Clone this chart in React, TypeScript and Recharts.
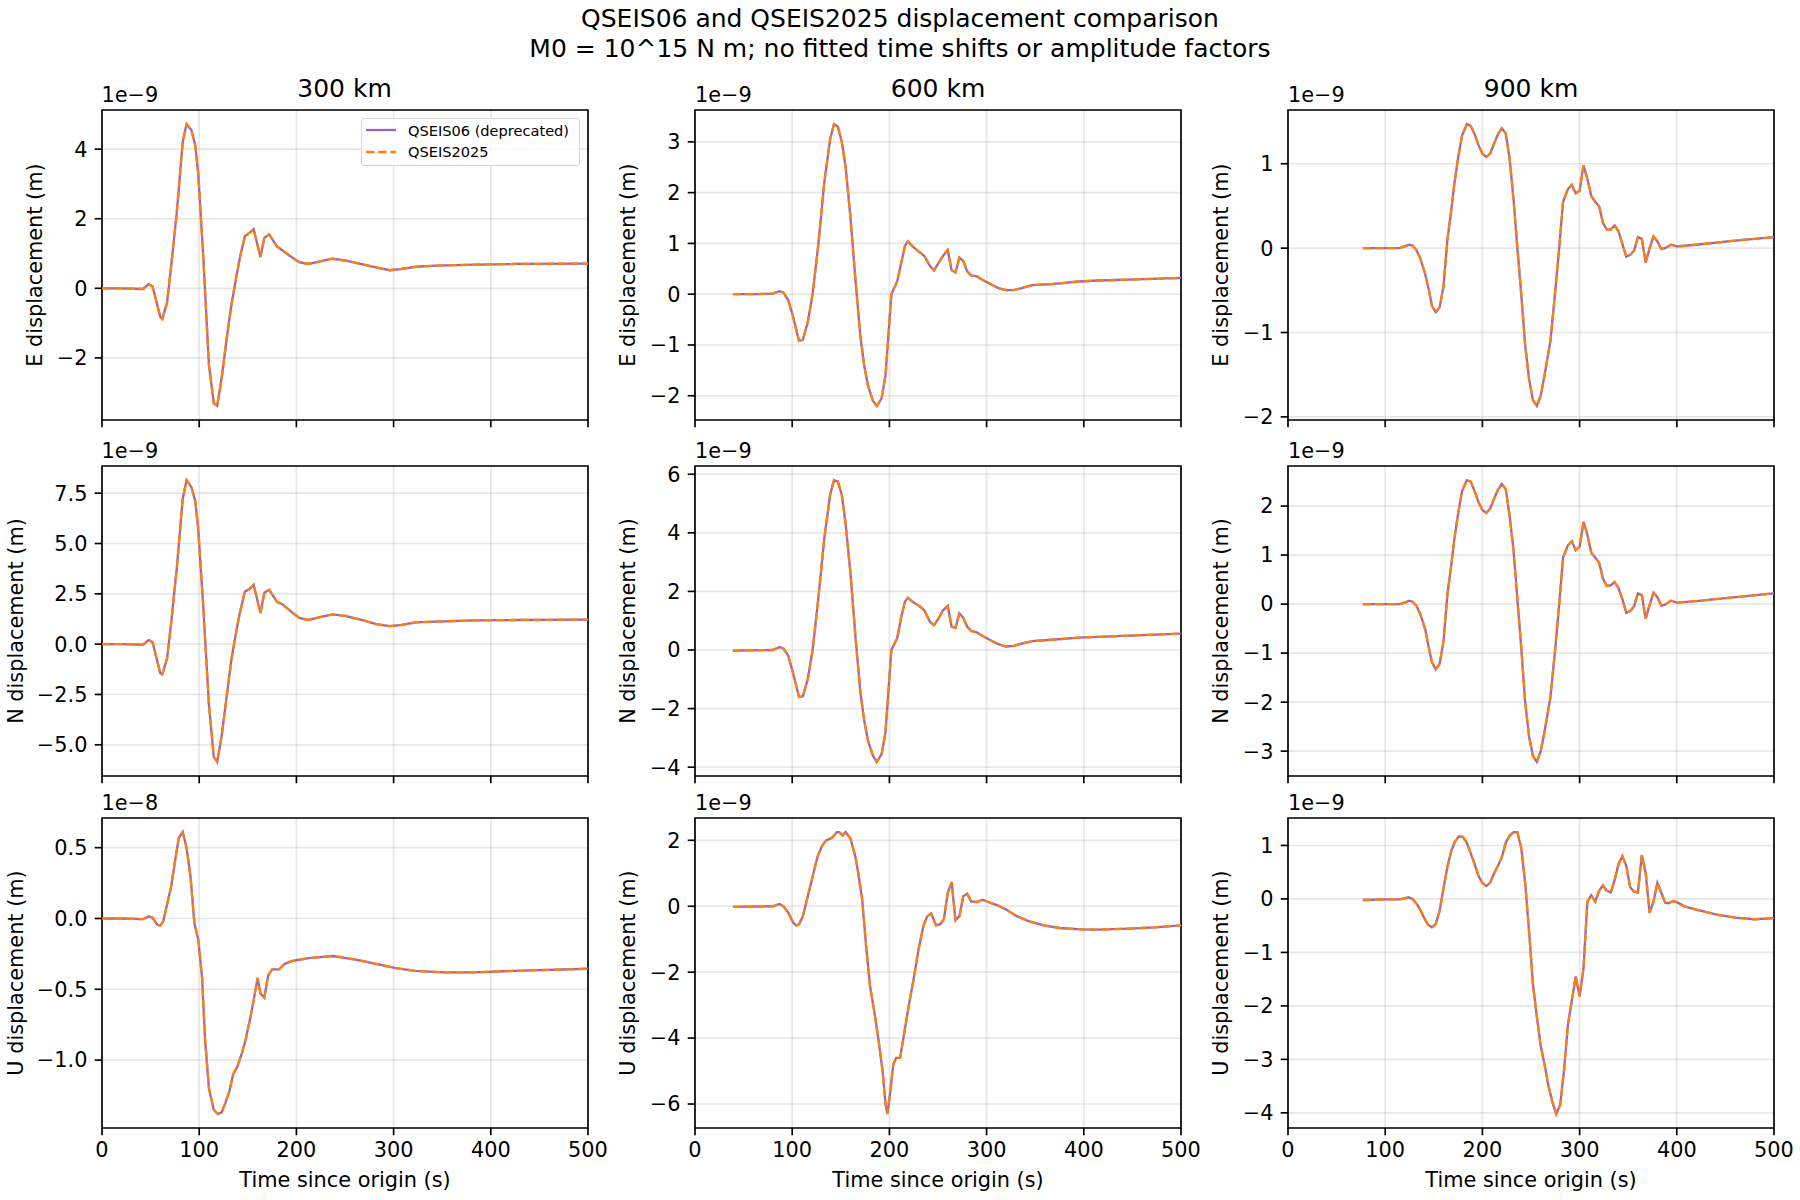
import React from "react";
import { LineChart, Line, XAxis, YAxis, CartesianGrid, ReferenceArea } from "recharts";

type Trace = [number, number][];

const DISTANCES = ["300 km", "600 km", "900 km"];
const COMPONENTS = ["E", "N", "U"];
const TIME_TICKS = [0, 100, 200, 300, 400, 500];
const TITLE = [
  "QSEIS06 and QSEIS2025 displacement comparison",
  "M0 = 10^15 N m; no fitted time shifts or amplitude factors",
];
const SERIES = ["QSEIS06 (deprecated)", "QSEIS2025"];

// traces: [time (s), displacement in units of the panel exponent]
const E_300: Trace = [
  [0, 0], [20, 0], [42, -0.02], [48, 0.12], [52, 0.05], [60, -0.82], [62, -0.88], [67, -0.4],
  [71, 0.6], [77, 2.2], [83, 4.2], [87, 4.72], [92, 4.55], [96, 4.1], [99, 3.3], [104, 1.0],
  [110, -2.2], [115, -3.3], [118.5, -3.38], [123, -2.6], [128, -1.5], [133, -0.5], [138, 0.3],
  [142, 0.9], [147, 1.5], [152, 1.6], [156, 1.7], [163, 0.9], [167, 1.45], [172, 1.55],
  [180, 1.2], [185, 1.1], [195, 0.9], [203, 0.75], [212, 0.7], [221, 0.75], [237, 0.85],
  [250, 0.8], [266, 0.7], [282, 0.6], [296, 0.52], [307, 0.55], [323, 0.62], [343, 0.65],
  [384, 0.68], [425, 0.7], [500, 0.71],
];
const N_300: Trace = [
  [0, 0], [20, 0], [42, -0.03], [48, 0.2], [52, 0.1], [60, -1.45], [62, -1.5], [67, -0.7],
  [71, 1.0], [77, 3.8], [83, 7.2], [87, 8.15], [92, 7.8], [96, 7.1], [99, 5.7], [104, 2.0],
  [110, -3.0], [115, -5.6], [118.5, -5.85], [123, -4.6], [128, -2.7], [133, -0.8], [138, 0.6],
  [142, 1.6], [147, 2.6], [152, 2.75], [156, 2.95], [163, 1.55], [167, 2.55], [172, 2.7],
  [180, 2.1], [185, 2.0], [195, 1.6], [203, 1.3], [212, 1.2], [221, 1.3], [237, 1.48],
  [250, 1.4], [266, 1.22], [282, 1.0], [296, 0.9], [307, 0.95], [323, 1.08], [343, 1.12],
  [384, 1.18], [425, 1.2], [500, 1.22],
];
const U_300: Trace = [
  [0, 0], [20, 0], [42, -0.005], [48, 0.015], [52, 0.005], [57, -0.045], [60, -0.05],
  [63, -0.02], [66, 0.07], [71, 0.22], [75, 0.4], [79, 0.57], [83, 0.61], [87, 0.5], [91, 0.3],
  [95, -0.03], [99, -0.15], [103, -0.42], [106, -0.85], [110, -1.2], [115, -1.35], [119, -1.38],
  [123, -1.37], [127, -1.3], [131, -1.22], [135, -1.1], [139, -1.05], [144, -0.95],
  [148, -0.85], [152, -0.72], [156, -0.58], [160, -0.42], [163, -0.53], [167, -0.56],
  [171, -0.4], [175, -0.36], [182, -0.36], [188, -0.32], [196, -0.3], [213, -0.28],
  [237, -0.265], [261, -0.29], [282, -0.32], [302, -0.35], [322, -0.37], [351, -0.38],
  [383, -0.38], [424, -0.37], [500, -0.355],
];
const E_600: Trace = [
  [39, 0], [60, 0], [80, 0.01], [87, 0.06], [91, 0.03], [96, -0.12], [101, -0.45], [107, -0.92],
  [111, -0.9], [116, -0.55], [121, 0.0], [127, 1.0], [133, 2.2], [139, 3.05], [143, 3.35],
  [147, 3.3], [151, 3.0], [155, 2.5], [160, 1.5], [165, 0.3], [170, -0.8], [174, -1.4],
  [178, -1.8], [183, -2.1], [187, -2.2], [192, -2.05], [196, -1.6], [199, -0.8], [202, 0.0],
  [208, 0.25], [212, 0.6], [216, 0.95], [219, 1.04], [225, 0.92], [231, 0.83], [236, 0.75],
  [242, 0.55], [246, 0.47], [251, 0.63], [255, 0.75], [260, 0.87], [264, 0.47], [268, 0.43],
  [272, 0.72], [276, 0.65], [280, 0.45], [284, 0.37], [290, 0.35], [296, 0.28], [304, 0.2],
  [312, 0.12], [320, 0.08], [328, 0.08], [336, 0.12], [347, 0.18], [367, 0.2], [395, 0.25],
  [415, 0.27], [454, 0.29], [500, 0.32],
];
const N_600: Trace = [
  [39, -0.02], [80, 0.0], [87, 0.1], [91, 0.05], [96, -0.2], [101, -0.8], [107, -1.6],
  [111, -1.58], [116, -1.0], [121, 0.0], [127, 1.8], [133, 3.8], [139, 5.3], [143, 5.8],
  [147, 5.75], [151, 5.3], [155, 4.3], [160, 2.6], [165, 0.5], [170, -1.4], [174, -2.4],
  [178, -3.1], [183, -3.6], [187, -3.82], [192, -3.55], [196, -2.8], [199, -1.4], [202, 0.0],
  [208, 0.4], [212, 1.1], [216, 1.65], [219, 1.78], [225, 1.62], [231, 1.5], [236, 1.35],
  [242, 0.95], [246, 0.85], [251, 1.1], [255, 1.35], [260, 1.5], [264, 0.8], [268, 0.75],
  [272, 1.25], [276, 1.1], [280, 0.8], [284, 0.65], [290, 0.6], [296, 0.48], [304, 0.33],
  [312, 0.2], [320, 0.12], [328, 0.14], [336, 0.22], [347, 0.3], [367, 0.35], [395, 0.42],
  [415, 0.45], [454, 0.5], [500, 0.56],
];
const U_600: Trace = [
  [39, -0.02], [80, 0.0], [87, 0.07], [91, 0.0], [96, -0.2], [101, -0.5], [104, -0.58],
  [107, -0.55], [111, -0.3], [116, 0.3], [121, 0.9], [126, 1.5], [131, 1.85], [135, 2.0],
  [141, 2.08], [146, 2.25], [148, 2.25], [152, 2.15], [155, 2.25], [160, 2.05], [165, 1.5],
  [168, 1.0], [172, 0.2], [176, -1.2], [180, -2.4], [185, -3.3], [189, -4.1], [193, -5.0],
  [196, -6.0], [198, -6.3], [201, -5.6], [204, -4.8], [207, -4.6], [211, -4.6], [215, -3.9],
  [220, -3.0], [225, -2.2], [230, -1.3], [235, -0.6], [239, -0.3], [243, -0.22], [248, -0.58],
  [252, -0.55], [256, -0.4], [260, 0.4], [264, 0.73], [268, -0.42], [272, -0.3], [276, 0.3],
  [280, 0.38], [284, 0.15], [290, 0.13], [296, 0.2], [304, 0.1], [312, 0.02], [320, -0.1],
  [331, -0.3], [343, -0.45], [359, -0.58], [375, -0.66], [398, -0.7], [414, -0.71],
  [446, -0.68], [473, -0.64], [500, -0.58],
];
const E_900: Trace = [
  [77, 0], [99, 0], [115, 0], [120, 0.02], [125, 0.04], [128, 0.03], [132, -0.02], [136, -0.12],
  [141, -0.3], [145, -0.5], [148, -0.68], [152, -0.76], [156, -0.7], [160, -0.45], [164, 0.1],
  [168, 0.45], [171, 0.75], [175, 1.07], [179, 1.33], [184, 1.47], [188, 1.45], [192, 1.35],
  [196, 1.22], [200, 1.12], [204, 1.08], [208, 1.12], [212, 1.24], [216, 1.35], [220, 1.42],
  [224, 1.36], [228, 1.06], [232, 0.58], [236, 0.0], [240, -0.55], [244, -1.15], [248, -1.55],
  [252, -1.8], [256, -1.87], [260, -1.75], [264, -1.5], [270, -1.1], [275, -0.5], [279, 0.0],
  [283, 0.55], [288, 0.7], [292, 0.75], [296, 0.65], [300, 0.68], [304, 0.98], [308, 0.82],
  [312, 0.62], [316, 0.55], [320, 0.5], [324, 0.3], [328, 0.22], [332, 0.22], [336, 0.27],
  [340, 0.2], [344, 0.05], [348, -0.1], [352, -0.08], [356, -0.03], [360, 0.13], [364, 0.11],
  [368, -0.17], [372, 0.0], [376, 0.14], [380, 0.08], [384, -0.01], [388, 0.0], [394, 0.04],
  [400, 0.02], [420, 0.04], [460, 0.09], [500, 0.13],
];
const N_900: Trace = [
  [77, 0], [99, 0], [115, 0], [120, 0.03], [125, 0.07], [128, 0.05], [132, -0.03], [136, -0.2],
  [141, -0.5], [145, -0.9], [148, -1.18], [152, -1.33], [156, -1.22], [160, -0.75], [164, 0.2],
  [168, 0.8], [171, 1.3], [175, 1.85], [179, 2.3], [184, 2.53], [188, 2.5], [192, 2.3],
  [196, 2.08], [200, 1.92], [204, 1.86], [208, 1.95], [212, 2.15], [216, 2.33], [220, 2.45],
  [224, 2.35], [228, 1.8], [232, 1.1], [236, 0.1], [240, -0.9], [244, -2.0], [248, -2.7],
  [252, -3.1], [256, -3.22], [260, -3.0], [264, -2.6], [270, -1.9], [275, -0.9], [279, 0.0],
  [283, 0.95], [288, 1.2], [292, 1.28], [296, 1.1], [300, 1.17], [304, 1.68], [308, 1.42],
  [312, 1.05], [316, 0.95], [320, 0.85], [324, 0.52], [328, 0.37], [332, 0.38], [336, 0.45],
  [340, 0.33], [344, 0.1], [348, -0.18], [352, -0.14], [356, -0.05], [360, 0.22], [364, 0.18],
  [368, -0.3], [372, -0.02], [376, 0.23], [380, 0.14], [384, -0.03], [388, -0.01], [394, 0.07],
  [400, 0.03], [420, 0.06], [460, 0.14], [500, 0.22],
];
const U_900: Trace = [
  [77, -0.02], [99, -0.01], [115, -0.01], [120, 0.01], [124, 0.03], [128, 0.0], [132, -0.08],
  [136, -0.2], [140, -0.35], [144, -0.48], [148, -0.53], [152, -0.47], [156, -0.22], [160, 0.2],
  [164, 0.6], [168, 0.9], [172, 1.08], [176, 1.17], [180, 1.16], [184, 1.05], [188, 0.85],
  [192, 0.65], [196, 0.43], [200, 0.3], [204, 0.24], [208, 0.3], [212, 0.48], [216, 0.62],
  [220, 0.78], [224, 1.05], [228, 1.18], [232, 1.25], [236, 1.25], [240, 0.95], [244, 0.3],
  [248, -0.6], [252, -1.6], [256, -2.2], [260, -2.75], [264, -3.1], [268, -3.5], [272, -3.8],
  [276, -4.02], [280, -3.85], [284, -3.2], [288, -2.35], [292, -1.9], [296, -1.45], [300, -1.82],
  [304, -1.3], [308, -0.05], [312, 0.07], [316, -0.05], [320, 0.15], [324, 0.25], [328, 0.15],
  [332, 0.12], [336, 0.35], [340, 0.65], [344, 0.8], [348, 0.62], [352, 0.22], [356, 0.14],
  [360, 0.12], [364, 0.82], [368, 0.48], [372, -0.26], [376, -0.05], [380, 0.3], [384, 0.12],
  [388, -0.07], [392, -0.08], [396, -0.04], [400, -0.06], [408, -0.14], [420, -0.2],
  [440, -0.29], [460, -0.35], [480, -0.38], [500, -0.36],
];

const TICKS_E_300 = [-2, 0, 2, 4];
const TICKS_N_300 = [-5, -2.5, 0, 2.5, 5, 7.5];
const TICKS_U_300 = [-1, -0.5, 0, 0.5];
const TICKS_E_600 = [-2, -1, 0, 1, 2, 3];
const TICKS_N_600 = [-4, -2, 0, 2, 4, 6];
const TICKS_U_600 = [-6, -4, -2, 0, 2];
const TICKS_E_900 = [-2, -1, 0, 1];
const TICKS_N_900 = [-3, -2, -1, 0, 1, 2];
const TICKS_U_900 = [-4, -3, -2, -1, 0, 1];

type PanelSpec = { trace: Trace; ticks: number[]; decimals: number; exponent: string };

const PANELS: PanelSpec[][] = [
  [
    { trace: E_300, ticks: TICKS_E_300, decimals: 0, exponent: "1e\u22129" },
    { trace: E_600, ticks: TICKS_E_600, decimals: 0, exponent: "1e\u22129" },
    { trace: E_900, ticks: TICKS_E_900, decimals: 0, exponent: "1e\u22129" },
  ],
  [
    { trace: N_300, ticks: TICKS_N_300, decimals: 1, exponent: "1e\u22129" },
    { trace: N_600, ticks: TICKS_N_600, decimals: 0, exponent: "1e\u22129" },
    { trace: N_900, ticks: TICKS_N_900, decimals: 0, exponent: "1e\u22129" },
  ],
  [
    { trace: U_300, ticks: TICKS_U_300, decimals: 1, exponent: "1e\u22128" },
    { trace: U_600, ticks: TICKS_U_600, decimals: 0, exponent: "1e\u22129" },
    { trace: U_900, ticks: TICKS_U_900, decimals: 0, exponent: "1e\u22129" },
  ],
];

// layout (px) - figure is 12x8 in at 150 dpi
const FONT = "'DejaVu Sans', sans-serif";
const PT = 150 / 72;
const TICK_FS = 10 * PT;
const TITLE_FS = 12 * PT;
const LEGEND_FS = 7 * PT;
const TICK_LEN = 3.5 * PT;
const TICK_PAD = 3.5 * PT;
const SPINE_W = 0.8 * PT;
const COL_X = [101.5, 695, 1288];
const ROW_Y = [110, 466, 818];
const PLOT_W = 486;
const PLOT_H = 310;
const AXIS_W = 100;
const M_TOP = 4;
const M_RIGHT = 26;
const XAXIS_H = 72;
const PURPLE = "#9467bd";
const ORANGE = "#ff7f0e";
const LINE_W = 2.3;
const DASH = "8.5 3.7";

const fmtTick = (v: number, decimals: number) =>
  (v < 0 ? "\u2212" : "") + Math.abs(v).toFixed(decimals);

// rough DejaVu Sans advance widths (em) for tick strings
const textEm = (s: string) =>
  s.split("").reduce((w, ch) => w + (ch === "\u2212" ? 0.838 : ch === "." ? 0.318 : 0.636), 0);

function YTitle({ px, py, txt }: { px: number; py: number; txt: string }) {
  return (
    <text
      x={px}
      y={py}
      transform={`rotate(-90 ${px} ${py})`}
      textAnchor="middle"
      fontSize={TICK_FS}
      fontFamily={FONT}
      fill="#000"
    >
      {txt}
    </text>
  );
}

function XTitle({ px, py, txt }: { px: number; py: number; txt: string }) {
  return (
    <text x={px} y={py} textAnchor="middle" fontSize={TICK_FS} fontFamily={FONT} fill="#000">
      {txt}
    </text>
  );
}

function Panel({ row, col }: { row: number; col: number }) {
  const spec = PANELS[row][col];
  const data = spec.trace.map(([t, v]) => ({ t, qseis06: v, qseis2025: v }));
  const values = spec.trace.map((d) => d[1]);
  const lo = Math.min(...values);
  const hi = Math.max(...values);
  const pad = (hi - lo) * 0.05;
  const domain: [number, number] = [lo - pad, hi + pad];
  const bottom = row === 2;
  const labelW = Math.max(...spec.ticks.map((v) => textEm(fmtTick(v, spec.decimals)))) * TICK_FS;
  const yTitleX = AXIS_W - TICK_LEN - TICK_PAD - labelW - 4 * PT - 6;

  return (
    <div style={{ position: "absolute", left: COL_X[col] - AXIS_W, top: ROW_Y[row] - M_TOP }}>
      <LineChart
        width={AXIS_W + PLOT_W + M_RIGHT}
        height={M_TOP + PLOT_H + XAXIS_H}
        data={data}
        margin={{ top: M_TOP, right: M_RIGHT, bottom: 0, left: 0 }}
      >
        <CartesianGrid stroke="#b0b0b0" strokeOpacity={0.3} strokeWidth={SPINE_W} />
        <XAxis
          dataKey="t"
          type="number"
          domain={[0, 500]}
          ticks={TIME_TICKS}
          interval={0}
          allowDataOverflow
          height={XAXIS_H}
          axisLine={false}
          tickSize={TICK_LEN}
          tickMargin={TICK_PAD}
          tickLine={{ stroke: "#000", strokeWidth: SPINE_W }}
          tick={{ fill: "#000", fontSize: TICK_FS, fontFamily: FONT }}
          tickFormatter={(v: number) => (bottom ? String(v) : "")}
          label={
            bottom ? (
              <XTitle px={AXIS_W + PLOT_W / 2} py={M_TOP + PLOT_H + 59} txt="Time since origin (s)" />
            ) : undefined
          }
        />
        <YAxis
          type="number"
          domain={domain}
          ticks={spec.ticks}
          interval={0}
          allowDataOverflow
          width={AXIS_W}
          axisLine={false}
          tickSize={TICK_LEN}
          tickMargin={TICK_PAD}
          tickLine={{ stroke: "#000", strokeWidth: SPINE_W }}
          tick={{ fill: "#000", fontSize: TICK_FS, fontFamily: FONT }}
          tickFormatter={(v: number) => fmtTick(v, spec.decimals)}
          label={
            <YTitle px={yTitleX} py={M_TOP + PLOT_H / 2} txt={`${COMPONENTS[row]} displacement (m)`} />
          }
        />
        <ReferenceArea
          x1={0}
          x2={500}
          y1={domain[0]}
          y2={domain[1]}
          fill="none"
          stroke="#000"
          strokeWidth={SPINE_W}
          ifOverflow="visible"
        />
        <Line
          type="linear"
          dataKey="qseis06"
          name={SERIES[0]}
          stroke={PURPLE}
          strokeWidth={LINE_W}
          dot={false}
          activeDot={false}
          isAnimationActive={false}
        />
        <Line
          type="linear"
          dataKey="qseis2025"
          name={SERIES[1]}
          stroke={ORANGE}
          strokeWidth={LINE_W}
          strokeDasharray={DASH}
          dot={false}
          activeDot={false}
          isAnimationActive={false}
        />
      </LineChart>
    </div>
  );
}

function LegendBox() {
  const rows = [
    { label: SERIES[0], color: PURPLE, dash: undefined },
    { label: SERIES[1], color: ORANGE, dash: DASH },
  ];
  return (
    <div
      style={{
        position: "absolute",
        left: 361,
        top: 118,
        width: 219,
        height: 48,
        boxSizing: "border-box",
        border: "1.5px solid #d6d6d6",
        borderRadius: 3,
        background: "rgba(255,255,255,0.8)",
        fontFamily: FONT,
        fontSize: LEGEND_FS,
      }}
    >
      {rows.map((r, i) => (
        <div
          key={r.label}
          style={{ position: "absolute", left: 3, top: 2 + i * 21.5, height: 18, display: "flex", alignItems: "center" }}
        >
          <svg width={32} height={18}>
            <line x1={1} x2={31} y1={9} y2={9} stroke={r.color} strokeWidth={LINE_W} strokeDasharray={r.dash} />
          </svg>
          <span style={{ marginLeft: 11, whiteSpace: "nowrap" }}>{r.label}</span>
        </div>
      ))}
    </div>
  );
}

export default function App() {
  return (
    <div
      style={{
        position: "absolute",
        left: 0,
        top: 0,
        width: 1800,
        height: 1200,
        background: "#fff",
        fontFamily: FONT,
        color: "#000",
        overflow: "hidden",
      }}
    >
      <div
        style={{
          position: "absolute",
          left: 0,
          top: 4,
          width: 1800,
          textAlign: "center",
          fontSize: TITLE_FS,
          lineHeight: "30px",
          whiteSpace: "pre",
        }}
      >
        {TITLE.join("\n")}
      </div>
      {DISTANCES.map((d, c) => (
        <div
          key={d}
          style={{
            position: "absolute",
            left: COL_X[c],
            top: 74,
            width: PLOT_W,
            textAlign: "center",
            fontSize: TITLE_FS,
            lineHeight: "30px",
          }}
        >
          {d}
        </div>
      ))}
      {PANELS.map((r, ri) =>
        r.map((spec, ci) => (
          <React.Fragment key={`${ri}-${ci}`}>
            <Panel row={ri} col={ci} />
            <div
              style={{
                position: "absolute",
                left: COL_X[ci],
                top: ROW_Y[ri] - 27,
                fontSize: TICK_FS,
                lineHeight: "25px",
              }}
            >
              {spec.exponent}
            </div>
          </React.Fragment>
        ))
      )}
      <LegendBox />
    </div>
  );
}
